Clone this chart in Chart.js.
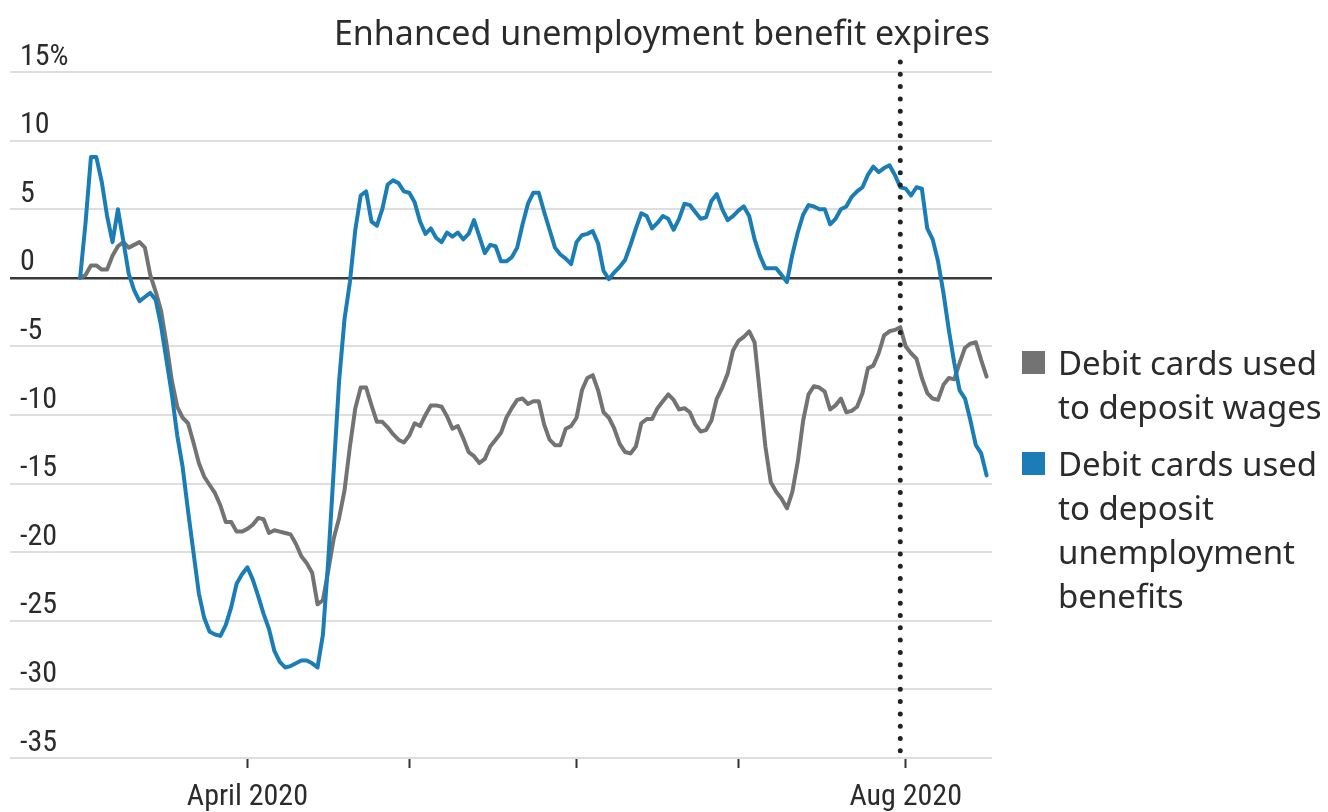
<!DOCTYPE html>
<html>
<head>
<meta charset="utf-8">
<script src="https://cdn.jsdelivr.net/npm/chart.js@4"></script>
<style>
  body { margin: 0; background: #fff; }
  #wrap { position: relative; width: 1328px; height: 812px; }
  #legend { position: absolute; left: 1022px; top: 341px; font-family: "Noto Sans", sans-serif; font-size: 33px; line-height: 44px; color: #2b2b2b; }
  .leg-item { display: flex; align-items: flex-start; margin-bottom: 13px; }
  .leg-box { width: 23px; height: 23px; margin-top: 10px; margin-right: 13px; flex: none; }
</style>
</head>
<body>
<div id="wrap">
  <canvas id="chart" width="1328" height="812"></canvas>
  <div id="legend"></div>
</div>
<script>
// x = days since 2020-03-01 (index of each value)
const wageChange = [
  0, 0.2, 0.9, 0.9, 0.6, 0.6, 1.6, 2.3, 2.6, 2.2,
  2.4, 2.6, 2.2, 0.2, -1.0, -2.4, -4.8, -7.5, -9.4, -10.2,
  -10.6, -12.0, -13.5, -14.5, -15.1, -15.7, -16.6, -17.8, -17.8, -18.5,
  -18.5, -18.3, -18.0, -17.5, -17.6, -18.6, -18.4, -18.5, -18.6, -18.7,
  -19.4, -20.3, -20.8, -21.5, -23.8, -23.5, -21.3, -19.0, -17.5, -15.5,
  -12.3, -9.5, -8.0, -8.0, -9.3, -10.5, -10.5, -10.9, -11.4, -11.8,
  -12.0, -11.5, -10.6, -10.8, -10.0, -9.3, -9.3, -9.4, -10.1, -11.0,
  -10.8, -11.7, -12.7, -13.0, -13.5, -13.2, -12.3, -11.8, -11.3, -10.2,
  -9.5, -8.9, -8.8, -9.2, -9.0, -9.0, -10.7, -11.8, -12.2, -12.2,
  -11.0, -10.8, -10.2, -8.2, -7.3, -7.1, -8.2, -9.8, -10.2, -11.0,
  -12.1, -12.7, -12.8, -12.3, -10.6, -10.3, -10.3, -9.5, -9.0, -8.5,
  -8.9, -9.6, -9.5, -9.8, -10.7, -11.2, -11.1, -10.4, -8.8, -8.0,
  -7.0, -5.3, -4.6, -4.3, -3.9, -4.7, -8.5, -12.3, -14.9, -15.6,
  -16.1, -16.8, -15.6, -13.4, -10.4, -8.5, -7.9, -8.0, -8.3, -9.6,
  -9.3, -8.8, -9.8, -9.7, -9.4, -8.4, -6.6, -6.4, -5.5, -4.2,
  -3.9, -3.8, -3.6, -5.0, -5.5, -5.9, -7.3, -8.4, -8.8, -8.9,
  -7.8, -7.3, -7.4, -6.2, -5.1, -4.8, -4.7, -6.0, -7.2
];
const benefitChange = [
  0, 4, 8.8, 8.8, 7.0, 4.5, 2.6, 5.0, 2.7, 0.3,
  -0.9, -1.7, -1.4, -1.1, -1.6, -3.5, -6.0, -8.5, -11.5, -13.8,
  -17, -20, -23, -24.8, -25.8, -26.0, -26.1, -25.3, -24.0, -22.3,
  -21.6, -21.1, -22.0, -23.2, -24.5, -25.6, -27.2, -28.0, -28.4, -28.3,
  -28.1, -27.9, -27.9, -28.1, -28.4, -26.0, -20.5, -14, -7.5, -3.0,
  -0.3, 3.5, 6.0, 6.3, 4.1, 3.8, 5.0, 6.8, 7.1, 6.9,
  6.3, 6.2, 5.5, 4.1, 3.2, 3.6, 2.9, 2.6, 3.3, 3.0,
  3.3, 2.8, 3.2, 4.2, 3.0, 1.8, 2.4, 2.3, 1.2, 1.2,
  1.5, 2.2, 3.9, 5.4, 6.2, 6.2, 4.8, 3.5, 2.2, 1.7,
  1.4, 1.0, 2.6, 3.1, 3.2, 3.4, 2.5, 0.5, -0.1, 0.4,
  0.8, 1.3, 2.4, 3.6, 4.7, 4.5, 3.6, 4.0, 4.5, 4.3,
  3.5, 4.3, 5.4, 5.3, 4.8, 4.3, 4.4, 5.6, 6.1, 5.0,
  4.2, 4.5, 4.9, 5.2, 4.5, 2.8, 1.6, 0.7, 0.7, 0.7,
  0.2, -0.3, 1.7, 3.3, 4.6, 5.3, 5.2, 5.0, 5.0, 3.9,
  4.3, 5.0, 5.2, 5.9, 6.3, 6.6, 7.5, 8.1, 7.7, 8.0,
  8.2, 7.5, 6.6, 6.5, 6.0, 6.6, 6.5, 3.6, 2.8, 1.2,
  -1.1, -3.8, -6.2, -8.2, -8.8, -10.4, -12.2, -12.8, -14.4
];

const seriesNames = ['Debit cards used to deposit wages', 'Debit cards used to deposit unemployment benefits'];
const seriesColors = ['#737373', '#1b7db5'];

// month ticks (days since Mar 1)
const monthTickDays = [31, 61, 92, 122, 153];
const monthTickLabels = ['April 2020', '', '', '', 'Aug 2020'];

const expiryDay = 152; // July 31
const expiryLabel = 'Enhanced unemployment benefit expires';

const toPoints = arr => arr.map((v, i) => ({ x: i, y: v }));

// 点線と注記
const expiryPlugin = {
    id: 'expiry',
    afterDatasetsDraw(chart) {
        const ctx = chart.ctx;
        const x = chart.scales.x.getPixelForValue(expiryDay);
        ctx.save();
        ctx.strokeStyle = '#222';
        ctx.lineWidth = 5;
        ctx.lineCap = 'round';
        ctx.setLineDash([0, 12.3]);
        ctx.beginPath();
        ctx.moveTo(x, 62);
        ctx.lineTo(x, 752);
        ctx.stroke();
        ctx.restore();

        ctx.save();
        ctx.font = '34px "Noto Sans"';
        ctx.fillStyle = '#2b2b2b';
        ctx.textAlign = 'right';
        ctx.textBaseline = 'alphabetic';
        ctx.fillText(expiryLabel, 990, 45);
        ctx.restore();
    }
};

const tickFont = '"Liberation Sans Narrow", "Roboto Condensed", "Noto Sans"';

const chart = new Chart(document.getElementById('chart'), {
    type: 'line',
    data: {
        datasets: [
            { label: seriesNames[0], data: toPoints(wageChange), borderColor: seriesColors[0], borderWidth: 4, pointRadius: 0, order: 1 },
            { label: seriesNames[1], data: toPoints(benefitChange), borderColor: seriesColors[1], borderWidth: 4, pointRadius: 0, order: 0 }
        ]
    },
    options: {
        responsive: false,
        devicePixelRatio: 1,
        animation: false,
        layout: { padding: { left: 10, right: 336, top: 72, bottom: 0 } },
        elements: { line: { tension: 0, borderJoinStyle: 'round', borderCapStyle: 'round' } },
        plugins: { legend: { display: false }, tooltip: { enabled: false } },
        scales: {
            x: {
                type: 'linear',
                min: -13,
                max: 169,
                afterFit: s => { s.height = 54; },
                afterBuildTicks: axis => { axis.ticks = monthTickDays.map(v => ({ value: v })); },
                border: { display: false },
                grid: { drawOnChartArea: false, drawTicks: true, tickLength: 10, tickColor: '#333', tickWidth: 2 },
                ticks: {
                    autoSkip: false,
                    maxRotation: 0,
                    padding: 11,
                    color: '#2b2b2b',
                    font: { family: tickFont, size: 30 },
                    callback: v => {
                        const i = monthTickDays.indexOf(v);
                        return i >= 0 ? monthTickLabels[i] : '';
                    }
                }
            },
            y: {
                min: -35,
                max: 15,
                afterFit: s => { s.width = 0; },
                border: { display: false },
                grid: {
                    drawTicks: false,
                    color: c => c.tick && c.tick.value === 0 ? '#3a3a3a' : '#dedede',
                    lineWidth: c => c.tick && c.tick.value === 0 ? 2.5 : 2
                },
                ticks: {
                    stepSize: 5,
                    mirror: true,
                    padding: 10,
                    labelOffset: -15,
                    color: '#2b2b2b',
                    font: { family: tickFont, size: 30 },
                    callback: v => v === 15 ? '15%' : String(v)
                }
            }
        }
    },
    plugins: [expiryPlugin]
});

// 凡例
const legend = document.getElementById('legend');
seriesNames.forEach((name, i) => {
    const words = i === 0 ? ['Debit cards used', 'to deposit wages'] : ['Debit cards used', 'to deposit', 'unemployment', 'benefits'];
    legend.insertAdjacentHTML('beforeend', `
        <div class="leg-item">
            <div class="leg-box" style="background:${seriesColors[i]}"></div>
            <div>${words.join('<br>')}</div>
        </div>`);
});
</script>
</body>
</html>
